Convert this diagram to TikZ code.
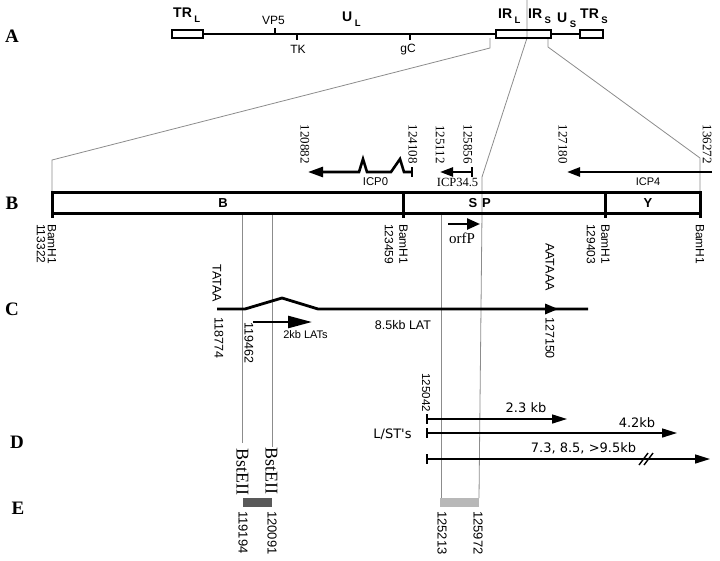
\documentclass[tikz,border=0pt]{standalone}
\usepackage{fontspec}
\setmainfont{Liberation Serif}
\setsansfont{Liberation Sans}
\newfontfamily\dvsfont{DejaVu Sans}
\usetikzlibrary{arrows.meta}
\newcommand\fsz[1]{\fontsize{#1}{#1}\selectfont}
\newcommand\mysubs[1]{\kern2.5pt\raisebox{-5.5pt}{\fsz{9.5}\bfseries #1}}
\begin{document}
\begin{tikzpicture}[x=1pt,y=-1pt,
  rowlab/.style={font=\fsz{19}\rmfamily\bfseries, inner sep=0pt},
  seglab/.style={font=\fsz{14}\sffamily\bfseries, inner sep=0pt, anchor=base west},
  smallsans/.style={font=\fsz{12}\sffamily, inner sep=0pt, anchor=base},
  barlab/.style={font=\fsz{13}\sffamily\bfseries, inner sep=0pt},
  topnum/.style={font=\fsz{13}\rmfamily, rotate=-90, anchor=east, inner sep=0pt},
  bamlab/.style={font=\fsz{12}\sffamily, rotate=-90, anchor=west, inner sep=0pt},
  vsans/.style={font=\fsz{12.5}\sffamily, rotate=-90, inner sep=0pt},
  enumlab/.style={font=\fsz{13}\sffamily, rotate=-90, anchor=west, inner sep=0pt},
  bst/.style={font=\fsz{18}\rmfamily, rotate=-90, anchor=west, inner sep=0pt},
  dlab/.style={font=\fsz{13}\dvsfont, inner sep=0pt},
  guide/.style={draw=black!45, line width=0.8pt},
  genome/.style={line width=2.8pt},
  segbox/.style={draw, line width=2pt},
  thickarrow/.style={line width=2.6pt},
  thinarrow/.style={line width=1.5pt, -{Triangle[length=15pt,width=9pt]}},
]
\useasboundingbox (0,0) rectangle (720,560);

% ---------- guide lines ----------
\draw[guide] (490,38) -- (490,48) -- (52,160) -- (52,192);
\draw[guide] (527,0) -- (527,38) -- (482,177) -- (482,213) -- (479,498);
\draw[guide] (548,38) -- (548,47) -- (700,158) -- (700,192);
\draw[guide] (441,213) -- (441,498);
\draw[guide] (242,213) -- (242,443);
\draw[guide] (272,213) -- (272,447);

% ---------- row A ----------
\node[rowlab] (rowA) at (12,36) {A};
\draw[genome] (203,34) -- (496,34);
\draw[genome] (551,34) -- (580,34);
\draw[segbox] (172,30) rectangle (203,38);
\draw[segbox] (496,30) rectangle (551,38);
\draw[segbox] (580,30) rectangle (603,38);
\draw[line width=2pt] (275,28) -- (275,34);
\draw[line width=2pt] (297,34) -- (297,40);
\draw[line width=2pt] (410,34) -- (410,40);
\node[seglab] (trl) at (173,17) {TR\mysubs{L}};
\node[seglab] (ul) at (342,21) {U\mysubs{L}};
\node[seglab] (irl) at (498,18) {IR\mysubs{L}};
\node[seglab] (irs) at (528,18) {IR\mysubs{S}};
\node[seglab] (us) at (557,22) {U\mysubs{S}};
\node[seglab] (trs) at (580,18) {TR\mysubs{S}};
\node[smallsans] (vp5) at (273.5,24) {VP5};
\node[smallsans] (tk) at (298,53) {TK};
\node[smallsans] (gc) at (408,52) {gC};

% ---------- row B ----------
\node[rowlab] (rowB) at (12,203) {B};
\draw[line width=3pt] (52,192) rectangle (700,213);
\draw[line width=3pt] (52,192) -- (52,218);
\draw[line width=3pt] (403,192) -- (403,218);
\draw[line width=3pt] (605,192) -- (605,218);
\draw[line width=3pt] (700,192) -- (700,218);
\node[barlab] (segB) at (223,203) {B};
\node[barlab] (segS) at (473,203) {S};
\node[barlab] (segP) at (486.5,203) {P};
\node[barlab] (segY) at (648,203) {Y};

\node[topnum] (t120882) at (305,164) {120882};
\node[topnum] (t124108) at (413,164) {124108};
\node[topnum] (t125112) at (440,164) {125112};
\node[topnum] (t125856) at (468,164) {125856};
\node[topnum] (t127180) at (563,164) {127180};
\node[topnum] (t136272) at (707,164) {136272};

\draw[thickarrow, -{Triangle[length=15pt,width=10pt]}]
  (412,172) -- (404,172) -- (400,159) -- (391,172) -- (367,172)
  -- (363,159) -- (359,172) -- (308,172);
\draw[line width=2pt] (412,167) -- (412,177);
\node[font=\fsz{11.3}\sffamily, inner sep=0pt] (icp0) at (375.5,182) {ICP0};

\draw[line width=2.4pt, -{Triangle[length=13pt,width=9pt]}] (472,172) -- (440,172);
\draw[line width=1.8pt] (472,167) -- (472,177);
\node[font=\fsz{12.5}\rmfamily, inner sep=0pt] (icp345) at (457.5,182.5) {ICP34.5};

\draw[thickarrow, -{Triangle[length=13pt,width=9pt]}] (712,172) -- (567,172);
\node[font=\fsz{11}\sffamily, inner sep=0pt] (icp4) at (648,182) {ICP4};

\draw[line width=2.4pt, -{Triangle[length=13pt,width=11pt]}] (448,224) -- (480,224);
\node[font=\fsz{15}\rmfamily, inner sep=0pt] (orfp) at (462,238) {orfP};

\node[bamlab] (bam1) at (52,224) {BamH1};
\node[bamlab] (b113322) at (41,224) {113322};
\node[bamlab] (bam2) at (403.5,224) {BamH1};
\node[bamlab] (b123459) at (389,224) {123459};
\node[bamlab] (bam3) at (605.5,224) {BamH1};
\node[bamlab] (b129403) at (591,224) {129403};
\node[bamlab] (bam4) at (700,224) {BamH1};

% ---------- row C ----------
\node[rowlab] (rowC) at (12,309) {C};
\draw[line width=2.8pt] (217,309) -- (245,309) -- (282,298) -- (318,309) -- (588,309);
\fill (545,303.5) -- (558,309) -- (545,314.5) -- cycle;
\draw[line width=2.5pt, -{Triangle[length=24pt,width=12pt]}] (253,322) -- (312,322);
\node[vsans, anchor=east] (tataa) at (217,302) {TATAA};
\node[vsans, anchor=west] (aataaa) at (550,243) {AATAAA};
\node[vsans, anchor=west] (c118774) at (219,317) {118774};
\node[vsans, anchor=west] (c119462) at (249,322) {119462};
\node[vsans, anchor=west] (c127150) at (550,317) {127150};
\node[font=\fsz{11}\sffamily, inner sep=0pt] (lats2) at (305.5,335) {2kb LATs};
\node[font=\fsz{12.5}\sffamily, inner sep=0pt] (lat85) at (403,325) {8.5kb LAT};

% ---------- row D ----------
\node[rowlab] (rowD) at (17,442) {D};
\node[font=\fsz{11.5}\sffamily, rotate=-90, anchor=east, inner sep=0pt] (d125042) at (426,412) {125042};
\draw[thinarrow] (427,419) -- (567,419);
\draw[line width=1.5pt] (427,414) -- (427,424);
\draw[thinarrow] (427,433) -- (677,433);
\draw[line width=1.5pt] (427,428) -- (427,438);
\draw[thinarrow] (427,459) -- (710,459);
\draw[line width=1.5pt] (427,454) -- (427,464);
\draw[line width=1.4pt] (639,465) -- (648,453);
\draw[line width=1.4pt] (644,465) -- (653,453);
\node[dlab] (lst) at (392.5,434) {L/ST's};
\node[dlab] (kb23) at (526,408) {2.3 kb};
\node[dlab] (kb42) at (637,423) {4.2kb};
\node[dlab] (kbmany) at (583.5,448) {7.3, 8.5, >9.5kb};

\node[bst] (bst1) at (242.5,448) {BstEII};
\node[bst] (bst2) at (271.5,447) {BstEII};

% ---------- row E ----------
\node[rowlab] (rowE) at (18,508) {E};
\fill[black!65] (243,498) rectangle (272,507);
\fill[black!28] (440,498) rectangle (479,507);
\node[enumlab] (e119194) at (243,511) {119194};
\node[enumlab] (e120091) at (272,511) {120091};
\node[enumlab] (e125213) at (442,511) {125213};
\node[enumlab] (e125972) at (478,511) {125972};
\end{tikzpicture}
\end{document}
